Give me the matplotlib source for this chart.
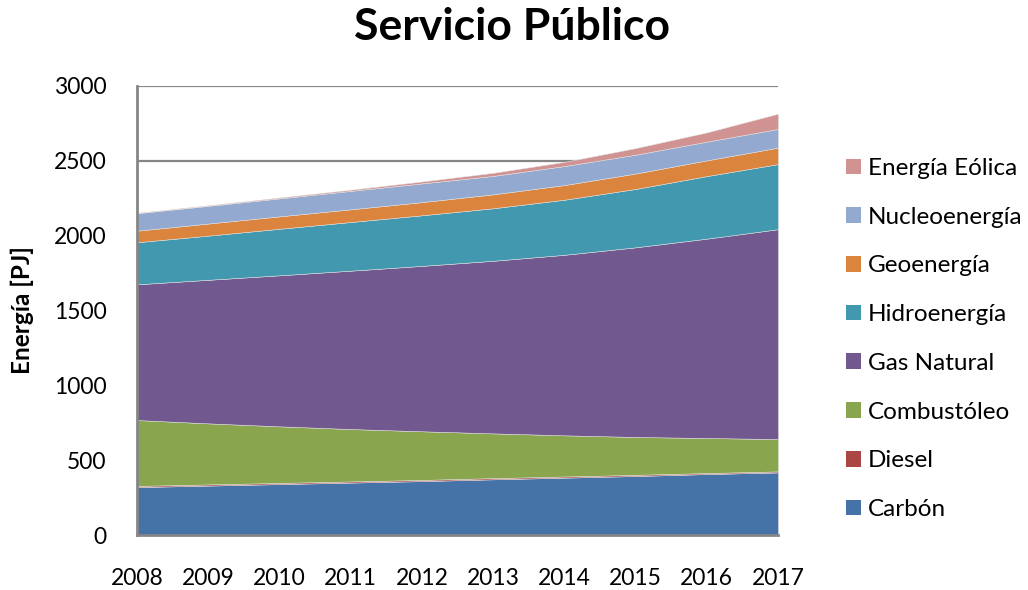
import matplotlib.pyplot as plt
from matplotlib.patches import Patch

plt.rcParams["font.family"] = ["Lato", "DejaVu Sans"]

years = [2008, 2009, 2010, 2011, 2012, 2013, 2014, 2015, 2016, 2017]

# Energy by source, PJ (stacked bottom to top)
carbon = [320, 330, 340, 350, 360, 372, 383, 394, 407, 418]
diesel = [8, 8, 8, 8, 8, 8, 8, 8, 7, 7]
combustoleo = [440, 408, 378, 350, 325, 299, 275, 253, 234, 216]
gas_natural = [907, 959, 1009, 1058, 1105, 1153, 1206, 1267, 1332, 1402]
hidro = [281, 295, 311, 325, 338, 351, 368, 390, 418, 435]
geo = [77, 81, 83, 85, 88, 93, 98, 103, 105, 110]
nuclear = [117, 118, 120, 123, 125, 123, 127, 126, 125, 125]
eolica = [3, 4, 6, 8, 13, 21, 28, 44, 62, 102]

labels = ["Carbón", "Diesel", "Combustóleo", "Gas Natural",
          "Hidroenergía", "Geoenergía", "Nucleoenergía", "Energía Eólica"]
colors = ["#4572A7", "#AA4643", "#89A54E", "#71588F",
          "#4198AF", "#DB843D", "#93A9CF", "#D19392"]

fig = plt.figure(figsize=(10.28, 5.9), dpi=100)
ax = fig.add_axes([137 / 1028, 1 - 535 / 590, 641 / 1028, 449 / 590])

series = [carbon, diesel, combustoleo, gas_natural, hidro, geo, nuclear, eolica]
ax.stackplot(years, *series, colors=colors, labels=labels,
             edgecolor="#e4e4e4", linewidth=0.35, zorder=2)

ax.set_xlim(2008, 2017)
ax.set_ylim(0, 3000)
ax.set_xticks(years)
ax.set_yticks(range(0, 3001, 500))
ax.yaxis.grid(True, color="#868686", linewidth=1.6, zorder=0)
ax.set_axisbelow(True)

for side in ("top", "right"):
    ax.spines[side].set_visible(False)
for side in ("left", "bottom"):
    ax.spines[side].set_color("#868686")
    ax.spines[side].set_linewidth(2)
    ax.spines[side].set_zorder(3)

ax.tick_params(axis="both", length=0, labelsize=16.5)
ax.tick_params(axis="y", pad=22)
ax.tick_params(axis="x", pad=24)

fig.text(22.5 / 1028, 1 - 310 / 590, "Energía [PJ]", fontsize=17.5,
         fontweight="bold", rotation=90, ha="center", va="center")

fig.text(0.4976, 1 - 40 / 590, "Servicio Público", fontsize=32,
         fontweight="bold", ha="center", va="baseline")

handles = [Patch(facecolor=c, edgecolor="none") for c in colors]
fig.legend(handles[::-1], labels[::-1], loc="center left",
           bbox_to_anchor=(846 / 1028, 1 - 339 / 590), frameon=False,
           fontsize=17.5, handlelength=0.62, handleheight=0.62,
           handletextpad=0.28, labelspacing=1.14, borderpad=0, borderaxespad=0)

fig.savefig("out.png", dpi=100)
